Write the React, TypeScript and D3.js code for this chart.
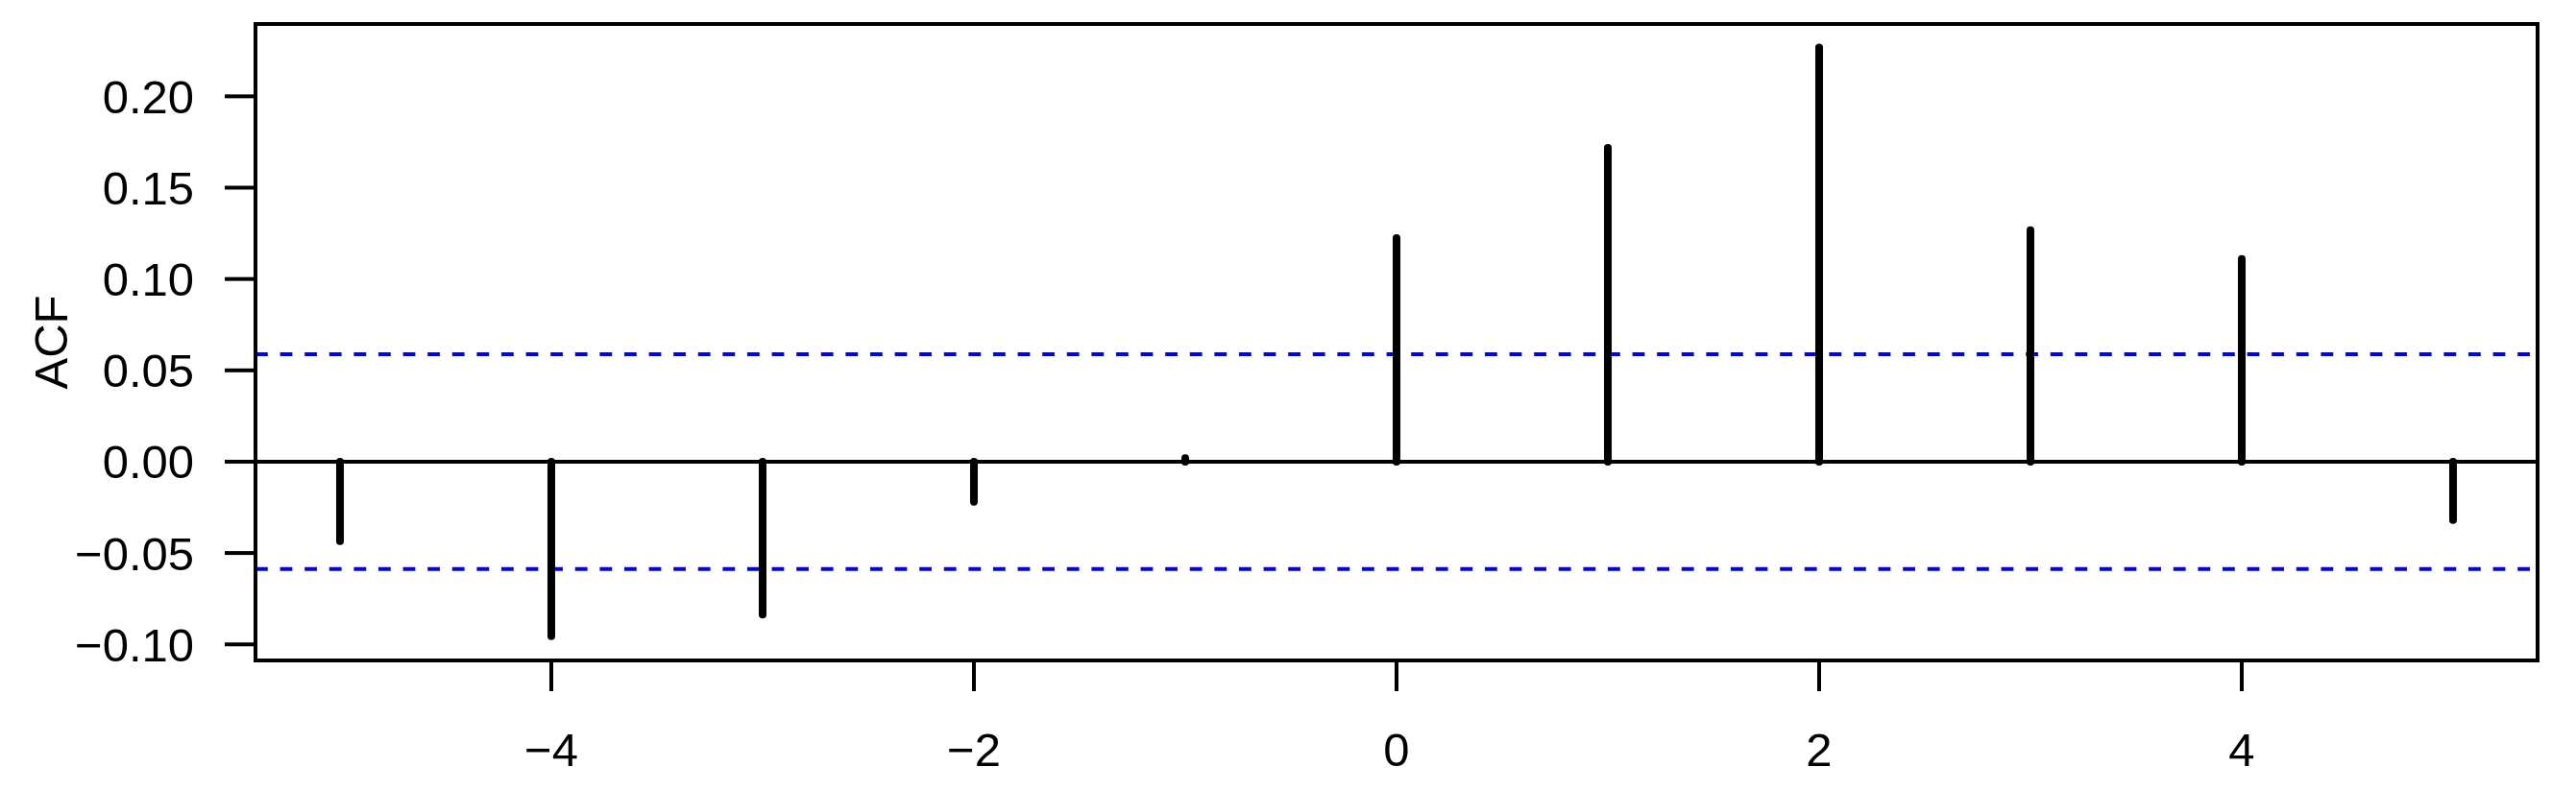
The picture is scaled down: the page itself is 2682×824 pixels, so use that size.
import React from "react";
import * as d3 from "d3";

const lags = [-5, -4, -3, -2, -1, 0, 1, 2, 3, 4, 5];
const acfValues = [-0.0435, -0.0955, -0.0837, -0.022, 0.002, 0.1224, 0.1718, 0.2267, 0.1268, 0.111, -0.032];
const ciBound = 0.0588;
const yTicks = [-0.1, -0.05, 0, 0.05, 0.1, 0.15, 0.2];
const xTicks = [-4, -2, 0, 2, 4];
const yLabel = "ACF";

const W = 2682;
const H = 824;
const L = 266, R = 2642, T = 25, B = 688;
const FONT = "'Liberation Sans', Arial, Helvetica, sans-serif";
const FS = 49;
const LW = 4;

const fmt = (v: number, d: number) => {
  const s = Math.abs(v).toFixed(d);
  return (v < -1e-9 ? "\u2212" : "") + s;
};

export default function App() {
  const x = d3.scaleLinear().domain([-5.4, 5.4]).range([L, R]);
  const y = d3.scaleLinear().domain([-0.1088, 0.2396]).range([B, T]);

  return (
    <svg
      width={W}
      height={H}
      style={{ position: "fixed", left: 0, top: 0, background: "#fff" }}
      fontFamily={FONT}
    >
      <rect x={0} y={0} width={W} height={H} fill="#fff" />
      {/* zero line */}
      <line x1={L} x2={R} y1={y(0)} y2={y(0)} stroke="#000" strokeWidth={LW} />
      {/* confidence bounds */}
      {[ciBound, -ciBound].map((c, i) => (
        <line
          key={i}
          x1={L}
          x2={R}
          y1={y(c)}
          y2={y(c)}
          stroke="#0000ff"
          strokeWidth={LW}
          strokeDasharray="12.8 12.8"
        />
      ))}
      {/* spikes */}
      {lags.map((l, i) => (
        <line
          key={l}
          x1={x(l)}
          x2={x(l)}
          y1={y(0)}
          y2={y(acfValues[i])}
          stroke="#000"
          strokeWidth={8}
          strokeLinecap="round"
        />
      ))}
      {/* box */}
      <rect x={L} y={T} width={R - L} height={B - T} fill="none" stroke="#000" strokeWidth={LW} />
      {/* y axis */}
      {yTicks.map((t) => (
        <g key={t}>
          <line x1={L - 32} x2={L} y1={y(t)} y2={y(t)} stroke="#000" strokeWidth={LW} />
          <text x={202} y={y(t) + 17.5} textAnchor="end" fontSize={FS} fill="#000">
            {fmt(t, 2)}
          </text>
        </g>
      ))}
      {/* x axis */}
      {xTicks.map((t) => (
        <g key={t}>
          <line x1={x(t)} x2={x(t)} y1={B} y2={B + 32} stroke="#000" strokeWidth={LW} />
          <text x={x(t)} y={798} textAnchor="middle" fontSize={FS} fill="#000">
            {fmt(t, 0)}
          </text>
        </g>
      ))}
      <text
        transform={`translate(70, ${(T + B) / 2}) rotate(-90)`}
        textAnchor="middle"
        fontSize={FS}
        fill="#000"
      >
        {yLabel}
      </text>
    </svg>
  );
}
